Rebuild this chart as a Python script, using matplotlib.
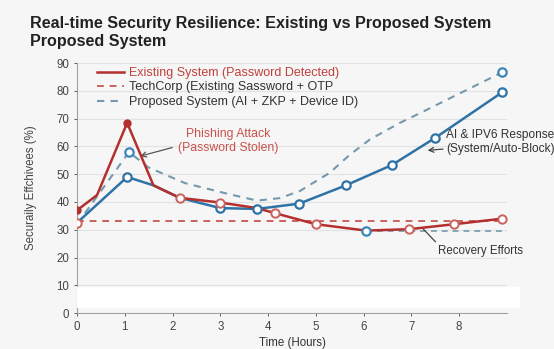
import matplotlib
matplotlib.use("Agg")
import matplotlib.pyplot as plt
from matplotlib.patches import Rectangle

plt.rcParams['font.family'] = ['Liberation Sans', 'DejaVu Sans']

# Existing system (solid red)
existing_t = [0, 0.42, 1.05, 1.6, 2.15, 3.0, 3.77, 4.14, 5.0, 6.05, 6.95, 7.9, 8.9]
existing_v = [37, 42.5, 68.5, 46, 41.5, 39.8, 37.8, 36, 32, 29.7, 30.2, 32, 34]

# Response curve (solid blue, markers)
response_t = [0, 1.05, 1.6, 2.15, 3.0, 3.77, 4.65, 5.63, 6.59, 7.49, 8.9]
response_v = [32.5, 49, 46, 41.5, 37.8, 37.5, 39.4, 46, 53.3, 63, 79.5]

# Proposed system (dashed blue)
proposed_t = [0, 1.09, 1.49, 2.26, 3.14, 3.77, 4.25, 4.67, 5.29, 5.71, 6.13, 6.76, 7.18, 7.8, 8.9]
proposed_v = [32, 58, 52.5, 46.8, 43, 40.5, 41.4, 44, 50.5, 57, 62.5, 68.5, 72, 77.3, 86.7]

# TechCorp baseline and recovery level
techcorp_v = 33.3
recovery_t = [6.05, 9.0]
recovery_v = 29.5

red = '#b3302e'
red_light = '#c9625c'
blue = '#2f73a6'
blue_dash = '#7499ad'
bg = '#f6f6f6'

fig = plt.figure(figsize=(5.54, 3.49), dpi=100, facecolor=bg)
ax = fig.add_axes([0.139, 0.103, 0.776, 0.716], facecolor=bg)

ax.set_xlim(0, 9.0)
ax.set_ylim(0, 90)

# white band near the bottom of the plot
fig.patches.append(Rectangle((0.139, 0.118), 0.80, 0.06, transform=fig.transFigure,
                             facecolor='white', edgecolor='none', zorder=1))

ax.plot([0, 9.0], [techcorp_v, techcorp_v], ls=(0, (3.5, 3)), color=red_light, lw=1.4,
        label='TechCorp (Existing Sassword + OTP', zorder=2)
ax.plot(recovery_t, [recovery_v, recovery_v], ls=(0, (3.5, 3)), color=blue_dash, lw=1.2, zorder=2)

ax.plot(proposed_t, proposed_v, ls=(0, (3.5, 3)), color=blue_dash, lw=1.5,
        label='Proposed System (AI + ZKP + Device ID)', zorder=3)
ax.plot([proposed_t[1], proposed_t[-1]], [proposed_v[1], proposed_v[-1]], ls='none',
        marker='o', ms=6, mfc='white', mec='#3a86b8', mew=1.6, zorder=5)

ax.plot(response_t, response_v, color=blue, lw=1.8, zorder=3)
marked = [1, 4, 5, 6, 7, 8, 9, 10]
ax.plot([response_t[i] for i in marked], [response_v[i] for i in marked], ls='none',
        marker='o', ms=6, mfc='white', mec=blue, mew=1.6, zorder=5)
ax.plot(response_t[0], response_v[0], ls='none', marker='o', ms=6, mfc='white',
        mec=red_light, mew=1.4, zorder=5)

ax.plot(existing_t, existing_v, color=red, lw=1.8, zorder=4,
        label='Existing System (Password Detected)')
filled = [0, 2]
hollow = [4, 5, 7, 8, 10, 11, 12]
ax.plot([existing_t[i] for i in filled], [existing_v[i] for i in filled], ls='none',
        marker='o', ms=5, color=red, zorder=6)
ax.plot([existing_t[i] for i in hollow], [existing_v[i] for i in hollow], ls='none',
        marker='o', ms=6, mfc='white', mec=red_light, mew=1.4, zorder=6)
ax.plot(recovery_t[0], recovery_v, ls='none', marker='o', ms=6, mfc='white',
        mec='#3a86b8', mew=1.6, zorder=6)

# annotations
ax.annotate('Phishing Attack\n(Password Stolen)', xy=(1.32, 56.5), xytext=(3.16, 62),
            ha='center', va='center', fontsize=8.8, color='#c8524d', linespacing=1.2,
            arrowprops=dict(arrowstyle='->', color='#555555', lw=0.9,
                            shrinkA=2, shrinkB=0,
                            relpos=(0.0, 0.3)))
ax.annotate('AI & IPV6 Response\n(System/Auto-Block)', xy=(7.34, 58.6), xytext=(7.72, 61.5),
            ha='left', va='center', fontsize=8.6, color='#333333', linespacing=1.25,
            annotation_clip=False,
            arrowprops=dict(arrowstyle='->', color='#444444', lw=0.9,
                            shrinkA=0, shrinkB=0, relpos=(0.0, 0.25)))
ax.annotate('Recovery Efforts', xy=(7.22, 30.8), xytext=(8.45, 22.5),
            ha='center', va='center', fontsize=8.3, color='#333333',
            arrowprops=dict(arrowstyle='-', color='#444444', lw=0.9,
                            shrinkA=0, shrinkB=0, relpos=(0.0, 1.0)))

ax.set_yticks(range(0, 91, 10))
ax.set_xticks(range(0, 9))
ax.tick_params(colors='#444444', labelsize=8.3, length=2, width=0.6)
ax.grid(axis='y', color='#e2e2e2', lw=0.8)
ax.set_axisbelow(True)
for side in ['top', 'right']:
    ax.spines[side].set_visible(False)
for side in ['left', 'bottom']:
    ax.spines[side].set_color('#a0a0a0')
    ax.spines[side].set_linewidth(0.8)

ax.set_xlabel('Time (Hours)', fontsize=8.3, color='#333333', labelpad=3)
ax.set_ylabel('Securaily Effchivees (%)', fontsize=8.3, color='#444444', labelpad=14)

handles, labels = ax.get_legend_handles_labels()
order = [2, 0, 1]
leg = ax.legend([handles[i] for i in order], [labels[i] for i in order],
                loc='upper left', bbox_to_anchor=(0.02, 1.03), frameon=False,
                fontsize=9, handlelength=2.2, handletextpad=0.4, labelspacing=0.2)
leg.get_texts()[0].set_color('#c0403c')
for t in leg.get_texts()[1:]:
    t.set_color('#333333')

fig.text(0.054, 0.955, 'Real-time Security Resilience: Existing vs Proposed System\nProposed System',
         ha='left', va='top', fontsize=11.6, fontweight='bold', color='#222222', linespacing=1.3)

fig.savefig('out.png', dpi=100, facecolor=bg)
